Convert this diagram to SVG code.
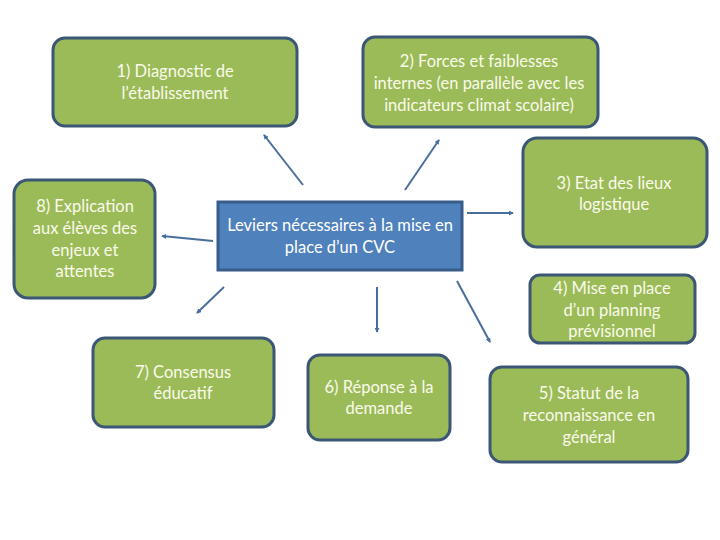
<svg xmlns="http://www.w3.org/2000/svg" width="720" height="540" viewBox="0 0 720 540">
<defs>
<style>
.g{fill:#9BBB59;stroke:#3C5775;stroke-width:3}
.c{fill:#4F81BD;stroke:#385D8A;stroke-width:3}
text{font-family:Lato,"Liberation Sans",sans-serif;font-size:16.5px;text-anchor:middle}
.gt{fill:#FAFAEA}
.ct{fill:#FFFFFF}
.a{stroke:#4A6E9B;stroke-width:2;fill:none;marker-end:url(#ah)}
</style>
<marker id="ah" viewBox="0 0 6 6" refX="5" refY="3" markerWidth="2.5" markerHeight="2.5" orient="auto">
<path d="M0,0 L6,3 L0,6 Z" fill="#4A6E9B"/>
</marker>
</defs>
<rect width="720" height="540" fill="#FFFFFF"/>
<g id="connectors">
<line class="a" x1="303" y1="185" x2="264" y2="135"/>
<line class="a" x1="405" y1="190" x2="439" y2="140"/>
<line class="a" x1="467" y1="213" x2="513" y2="213"/>
<line class="a" x1="213" y1="241" x2="162" y2="236"/>
<line class="a" x1="224" y1="287" x2="197" y2="313"/>
<line class="a" x1="377" y1="287" x2="377" y2="332"/>
<line class="a" x1="457" y1="281" x2="490" y2="342"/>
</g>
<g id="n1"><rect class="g" x="53" y="38" width="244" height="88" rx="12"/>
<text class="gt" x="175" y="77">1) Diagnostic de</text><text class="gt" x="175" y="99">l’établissement</text></g>
<g id="n2"><rect class="g" x="363" y="37" width="235" height="90" rx="12"/>
<text class="gt" x="479" y="67">2) Forces et faiblesses</text><text class="gt" x="479" y="89">internes (en parallèle avec les</text><text class="gt" x="479" y="111">indicateurs climat scolaire)</text></g>
<g id="n3"><rect class="g" x="523" y="138" width="184" height="109" rx="14"/>
<text class="gt" x="614" y="189">3) Etat des lieux</text><text class="gt" x="614" y="210">logistique</text></g>
<g id="n4"><rect class="g" x="530" y="275" width="165" height="68" rx="10"/>
<text class="gt" x="612" y="294">4) Mise en place</text><text class="gt" x="612" y="316">d’un planning</text><text class="gt" x="612" y="337">prévisionnel</text></g>
<g id="n5"><rect class="g" x="490" y="367" width="198" height="95" rx="12"/>
<text class="gt" x="589" y="399">5) Statut de la</text><text class="gt" x="589" y="421">reconnaissance en</text><text class="gt" x="589" y="443">général</text></g>
<g id="n6"><rect class="g" x="308" y="355" width="142" height="85" rx="12"/>
<text class="gt" x="379" y="393">6) Réponse à la</text><text class="gt" x="379" y="414">demande</text></g>
<g id="n7"><rect class="g" x="93" y="338" width="181" height="89" rx="12"/>
<text class="gt" x="183" y="378">7) Consensus</text><text class="gt" x="183" y="399">éducatif</text></g>
<g id="n8"><rect class="g" x="14" y="180" width="141" height="118" rx="14"/>
<text class="gt" x="85" y="212">8) Explication</text><text class="gt" x="85" y="234">aux élèves des</text><text class="gt" x="85" y="256">enjeux et</text><text class="gt" x="85" y="277">attentes</text></g>
<g id="center"><rect class="c" x="218" y="202" width="244" height="68"/>
<text class="ct" x="340" y="231">Leviers nécessaires à la mise en</text><text class="ct" x="340" y="253">place d’un CVC</text></g>
</svg>
